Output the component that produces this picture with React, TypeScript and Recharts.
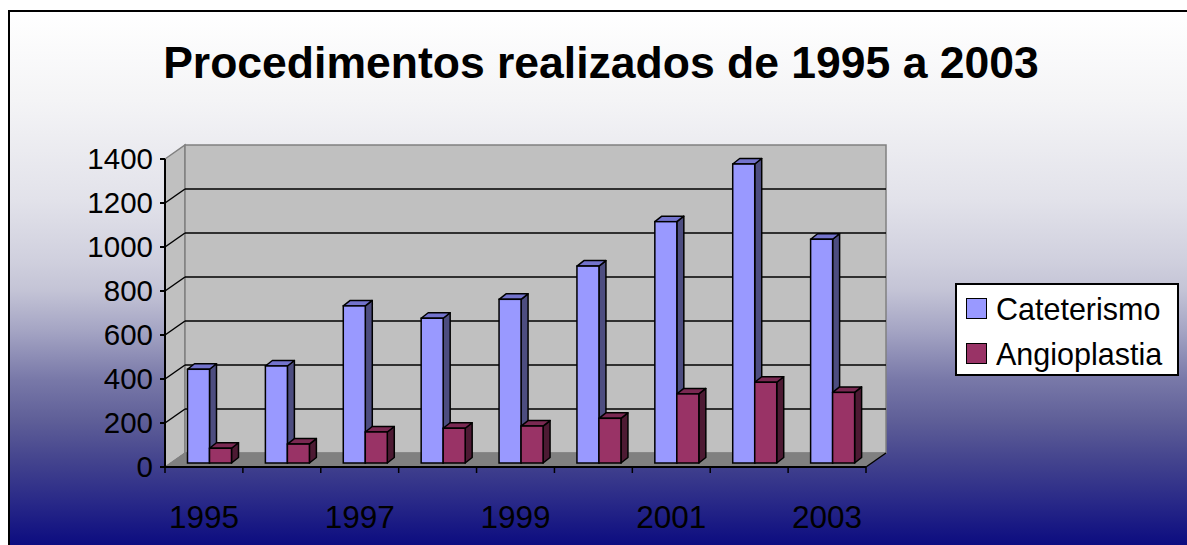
import React from 'react';
import { BarChart, Bar, XAxis, YAxis, CartesianGrid, Legend } from 'recharts';

// --- data ---
const years = ['1995', '1996', '1997', '1998', '1999', '2000', '2001', '2002', '2003'];
const cateterismo = [426, 441, 714, 658, 744, 895, 1097, 1359, 1017];
const angioplastia = [67, 86, 141, 158, 168, 203, 314, 367, 321];
const yTicks = [0, 200, 400, 600, 800, 1000, 1200, 1400];
const labelledYears = ['1995', '1997', '1999', '2001', '2003'];
const seriesNames = ['Cateterismo', 'Angioplastia'];

const data = years.map((year, i) => ({
  year,
  cateterismo: cateterismo[i],
  angioplastia: angioplastia[i],
}));

// --- fake 3D depth (Excel style) ---
const WALL_DX = 20;
const WALL_DY = 14;
const BAR_SX = 5.5;
const BAR_SY = 4;
const BOX_DX = 7;
const BOX_DY = 5.5;

const FONT = "Arial, 'Liberation Sans', sans-serif";

const makeBox = (front: string, top: string, side: string) => (props: any) => {
  const { x, y, width, height } = props;
  if (x == null || y == null) return <g />;
  const fx = x + BAR_SX;
  const fy = y - BAR_SY;
  const w = width;
  const h = height;
  return (
    <g>
      <polygon
        points={`${fx + w},${fy} ${fx + w + BOX_DX},${fy - BOX_DY} ${fx + w + BOX_DX},${fy + h - BOX_DY} ${fx + w},${fy + h}`}
        fill={side} stroke="#000" strokeWidth={1.5} strokeLinejoin="round"
      />
      <polygon
        points={`${fx},${fy} ${fx + BOX_DX},${fy - BOX_DY} ${fx + w + BOX_DX},${fy - BOX_DY} ${fx + w},${fy}`}
        fill={top} stroke="#000" strokeWidth={1.5} strokeLinejoin="round"
      />
      <rect x={fx} y={fy} width={w} height={h} fill={front} stroke="#000" strokeWidth={1.5} />
    </g>
  );
};

const catBox = makeBox('#9999FF', '#7373CC', '#4D4D80');
const angioBox = makeBox('#993366', '#7A2952', '#4D1A33');

// walls + gridlines drawn from the grid's own line positions
const renderGridLine = (props: any) => {
  const { x1, y1, x2, x, y, width, height, index } = props;
  const top = y;
  const bottom = y + height;
  const left = x;
  const right = x + width;
  const first = index === 0 || props.key === 'line-0';
  const isEdge = Math.abs(y1 - top) < 0.5 || Math.abs(y1 - bottom) < 0.5;
  return (
    <g key={`grid-${index}`}>
      {first && (
        <g>
          <polygon
            points={`${left},${top} ${left + WALL_DX},${top - WALL_DY} ${left + WALL_DX},${bottom - WALL_DY} ${left},${bottom}`}
            fill="#C0C0C0" stroke="#808080" strokeWidth={1.5}
          />
          <rect x={left + WALL_DX} y={top - WALL_DY} width={width} height={height}
            fill="#C0C0C0" stroke="#808080" strokeWidth={1.5} />
          <polygon
            points={`${left},${bottom} ${right},${bottom} ${right + WALL_DX},${bottom - WALL_DY} ${left + WALL_DX},${bottom - WALL_DY}`}
            fill="#808080" stroke="#808080" strokeWidth={1}
          />
          <line x1={right} y1={bottom} x2={right + WALL_DX} y2={bottom - WALL_DY} stroke="#000" strokeWidth={1.5} />
        </g>
      )}
      {!isEdge && (
        <g>
          <line x1={x1} y1={y1} x2={x1 + WALL_DX} y2={y1 - WALL_DY} stroke="#000" strokeWidth={1.5} />
          <line x1={x1 + WALL_DX} y1={y1 - WALL_DY} x2={x2 + WALL_DX} y2={y1 - WALL_DY} stroke="#000" strokeWidth={1.5} />
        </g>
      )}
    </g>
  );
};

// ticks sit between categories, labels on every other year
const XTick = (props: any) => {
  const { x, y, payload, index, width, visibleTicksCount } = props;
  const half = payload && payload.offset ? payload.offset : width / visibleTicksCount / 2;
  return (
    <g>
      {index === 0 && <line x1={x - half} y1={y} x2={x - half} y2={y + 6} stroke="#000" strokeWidth={1.5} />}
      <line x1={x + half} y1={y} x2={x + half} y2={y + 6} stroke="#000" strokeWidth={1.5} />
      {labelledYears.includes(payload.value) && (
        <text x={x} y={y + 61} textAnchor="middle" fontSize={31.5} fill="#000" fontFamily={FONT}>
          {payload.value}
        </text>
      )}
    </g>
  );
};

const renderLegend = (props: any) => {
  const payload = [...(props.payload || [])].sort(
    (a: any, b: any) => seriesNames.indexOf(a.value) - seriesNames.indexOf(b.value)
  );
  return (
    <div style={{
      boxSizing: 'border-box', width: 224, height: 93, background: '#fff',
      border: '2px solid #000', padding: '1px 0 0 9px', fontFamily: FONT,
    }}>
      {payload.map((entry: any) => (
        <div key={entry.value} style={{ display: 'flex', alignItems: 'center', height: 45 }}>
          <span style={{
            display: 'inline-block', boxSizing: 'border-box', width: 21, height: 21,
            background: entry.color, border: '1.5px solid #000', marginRight: 9,
          }} />
          <span style={{ fontSize: 30.5, color: '#000', lineHeight: '30px' }}>{entry.value}</span>
        </div>
      ))}
    </div>
  );
};

export default function App() {
  return (
    <div>
      <style>{`body{margin:0;overflow:hidden}`}</style>
      <div style={{
        position: 'absolute', left: 8, top: 10, width: 1179, height: 535, boxSizing: 'border-box',
        borderLeft: '2px solid #000', borderTop: '2px solid #000', overflow: 'hidden',
        fontFamily: FONT,
        background: `linear-gradient(to bottom,
          rgb(255,255,255) 0px, rgb(244,244,246) 88px, rgb(226,226,234) 188px,
          rgb(208,208,222) 248px, rgb(196,196,214) 278px, rgb(165,165,196) 318px,
          rgb(120,120,168) 368px, rgb(95,95,152) 408px, rgb(68,68,142) 448px,
          rgb(42,42,136) 488px, rgb(12,12,128) 533px)`,
      }}>
        <div style={{ position: 'absolute', left: 0, top: 0 }}>
          <BarChart width={1177} height={533} data={data} barGap={0}
            margin={{ top: 147, right: 321, bottom: 18, left: 0 }}>
            <CartesianGrid vertical={false} horizontal={renderGridLine} fill="none" />
            <XAxis dataKey="year" interval={0} height={60} tickSize={0} tickMargin={0}
              axisLine={{ stroke: '#000', strokeWidth: 2 }} tickLine={false} tick={<XTick />} />
            <YAxis domain={[0, 1400]} ticks={yTicks} interval={0} width={155} tickSize={5} tickMargin={7}
              axisLine={{ stroke: '#000', strokeWidth: 2 }} tickLine={{ stroke: '#000', strokeWidth: 2 }}
              tick={{ fill: '#000', fontSize: 29.5, fontFamily: FONT }} />
            <Legend content={renderLegend} layout="horizontal" verticalAlign="middle" align="center"
              wrapperStyle={{ left: 945, top: 271, width: 224, height: 93 }} />
            <Bar dataKey="cateterismo" name="Cateterismo" fill="#9999FF" barSize={22}
              shape={catBox} isAnimationActive={false} />
            <Bar dataKey="angioplastia" name="Angioplastia" fill="#993366" barSize={22}
              shape={angioBox} isAnimationActive={false} />
          </BarChart>
        </div>
        <div style={{
          position: 'absolute', left: 0, top: 29, width: 1182, textAlign: 'center',
          fontSize: 44.5, fontWeight: 'bold', lineHeight: '44px', color: '#000',
        }}>
          Procedimentos realizados de 1995 a 2003
        </div>
      </div>
    </div>
  );
}
